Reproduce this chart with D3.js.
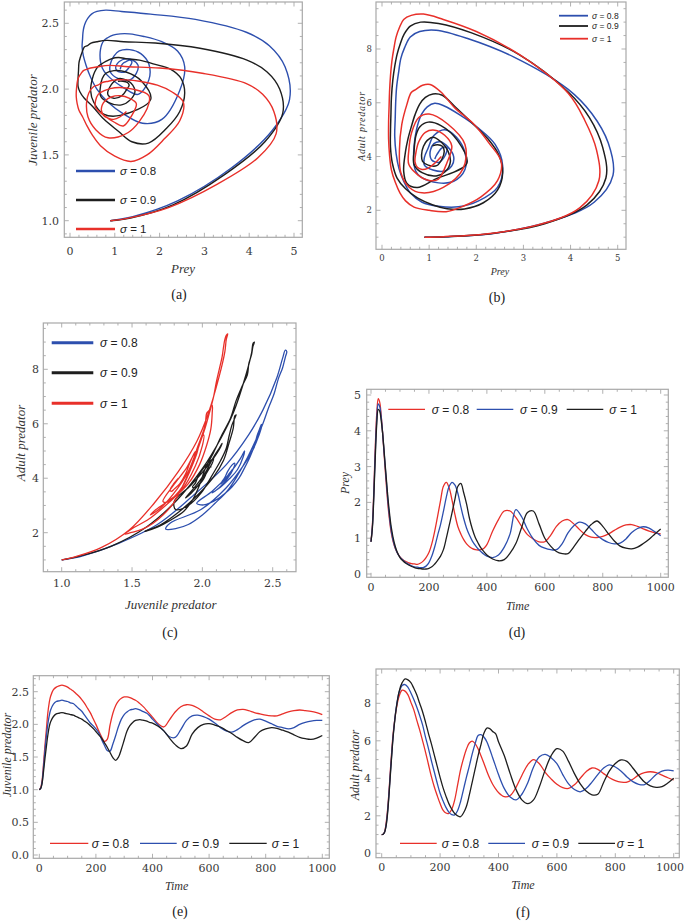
<!DOCTYPE html>
<html><head><meta charset="utf-8">
<script src="https://cdn.jsdelivr.net/npm/d3@7"></script>
<style>body{margin:0;background:#fff}svg{display:block}</style>
</head><body>
<svg id="c" width="685" height="922"></svg>
<script>
// ---------- DATA ----------
const T = [0,5,10,15,20,25,30,35,40,
  50,60,70,80,90,100,110,120,130,140,150,160,170,180,190,200,210,220,230,240,250,260,270,280,290,300,310,320,330,340,350,360,370,380,390,400,
  420,440,460,480,500,520,540,560,580,600,620,640,660,680,700,720,740,760,780,800,820,840,860,880,900,920,940,960,980,1000];

// sigma = 0.8
const preyS1 = [0.9,1.4,2.4,3.6,4.5,4.9,4.8,4.45,3.95,
  2.8,1.8,1.15,0.8,0.6,0.48,0.4,0.35,0.31,0.29,0.28,0.27,0.3,0.36,0.46,0.6,0.85,1.2,1.62,2.05,2.45,2.56,2.4,2.05,1.65,1.32,1.12,0.96,0.84,0.76,0.71,0.68,0.67,0.68,0.72,0.82,
  1.2,1.52,1.76,1.76,1.58,1.33,1.1,0.98,0.9,0.9,1.08,1.33,1.48,1.52,1.4,1.24,1.1,1.03,1.02,1.05,1.12,1.22,1.31,1.37,1.38,1.33,1.26,1.2,1.15,1.12];
const juvS1 = [1.0,1.03,1.15,1.4,1.68,1.92,2.17,2.33,2.43,
  2.53,2.57,2.59,2.6,2.59,2.57,2.54,2.51,2.47,2.43,2.38,2.32,2.25,2.18,2.09,2.0,1.9,1.81,1.74,1.77,1.99,2.17,2.29,2.36,2.4,2.42,2.42,2.41,2.39,2.37,2.34,2.3,2.26,2.21,2.16,2.11,
  2.01,1.96,2.07,2.19,2.27,2.3,2.29,2.25,2.19,2.13,2.08,2.07,2.12,2.18,2.22,2.23,2.21,2.18,2.16,2.14,2.13,2.13,2.16,2.19,2.21,2.22,2.21,2.2,2.18,2.15];
const adultS1 = [1.0,1.02,1.15,1.6,2.3,3.3,4.5,5.6,6.5,
  7.7,8.4,8.7,8.65,8.45,8.05,7.65,7.1,6.58,6.0,5.4,4.75,4.1,3.55,3.08,2.65,2.3,2.15,2.13,2.35,2.85,3.65,4.45,5.05,5.55,5.88,5.98,5.85,5.58,5.2,4.8,4.38,4.0,3.68,3.44,3.24,
  3.02,3.08,3.52,4.15,4.72,5.0,4.78,4.32,3.97,3.68,3.5,3.46,3.65,4.0,4.35,4.55,4.48,4.25,4.03,3.88,3.8,3.79,3.95,4.17,4.3,4.35,4.3,4.17,4.03,3.91];

// sigma = 0.9
const preyS2 = [0.9,1.35,2.3,3.45,4.35,4.75,4.68,4.4,3.95,
  2.9,1.9,1.2,0.82,0.6,0.47,0.39,0.32,0.27,0.23,0.2,0.19,0.18,0.18,0.22,0.32,0.5,0.76,1.08,1.38,1.75,2.15,2.45,2.56,2.48,2.25,1.88,1.55,1.28,1.08,0.92,0.8,0.7,0.62,0.55,0.5,
  0.46,0.53,0.75,1.12,1.8,1.6,1.25,0.98,0.8,0.72,0.68,0.68,0.85,1.15,1.35,1.45,1.4,1.25,1.08,0.96,0.88,0.84,0.86,0.98,1.16,1.27,1.32,1.28,1.18,1.07];
const juvS2 = [1.0,1.02,1.12,1.35,1.6,1.82,2.0,2.13,2.22,
  2.31,2.35,2.36,2.37,2.36,2.35,2.33,2.32,2.28,2.24,2.2,2.14,2.08,2.02,1.98,1.93,1.87,1.77,1.68,1.6,1.59,1.7,1.83,1.97,2.08,2.15,2.19,2.22,2.23,2.24,2.23,2.21,2.19,2.17,2.13,2.08,
  1.99,1.9,1.81,1.8,1.92,2.06,2.13,2.14,2.12,2.08,2.02,1.95,1.9,1.88,1.92,1.98,2.03,2.07,2.08,2.05,2.01,1.97,1.95,1.93,1.95,2.0,2.03,2.05,2.06,2.06];
const adultS2 = [1.0,1.02,1.13,1.5,2.2,3.2,4.35,5.45,6.4,
  7.8,8.6,8.95,9.0,8.85,8.55,8.2,7.8,7.35,6.85,6.2,5.6,4.95,4.35,3.75,3.2,2.8,2.45,2.2,2.06,2.05,2.28,2.75,3.4,4.05,4.65,5.3,5.85,6.28,6.33,6.2,5.95,5.55,5.1,4.65,4.2,
  3.45,3.0,2.85,3.15,3.75,4.6,5.15,5.28,5.1,4.78,4.2,3.7,3.4,3.28,3.45,3.8,4.2,4.55,4.72,4.6,4.38,4.07,3.82,3.68,3.66,3.9,4.2,4.38,4.44,4.4];

// sigma = 1
const preyS3 = [0.9,1.3,2.2,3.3,4.2,4.6,4.55,4.3,3.95,
  2.95,2.0,1.3,0.88,0.62,0.46,0.37,0.3,0.25,0.21,0.18,0.16,0.15,0.14,0.14,0.16,0.2,0.28,0.38,0.5,0.68,1.0,1.36,1.72,2.1,2.45,2.53,2.27,1.95,1.55,1.25,1.02,0.86,0.72,0.62,0.53,
  0.42,0.37,0.4,0.58,0.85,1.3,1.72,1.76,1.4,1.0,0.78,0.63,0.57,0.57,0.76,0.98,1.19,1.38,1.48,1.33,1.12,0.92,0.78,0.72,0.7,0.75,0.85,0.97,1.12,1.26];
const juvS3 = [1.0,1.02,1.1,1.28,1.48,1.66,1.83,1.96,2.04,
  2.12,2.16,2.17,2.18,2.17,2.16,2.15,2.14,2.12,2.1,2.08,2.05,2.02,1.98,1.94,1.89,1.84,1.79,1.72,1.65,1.57,1.49,1.45,1.5,1.62,1.76,1.9,1.98,2.03,2.06,2.07,2.07,2.06,2.05,2.03,2.02,
  1.97,1.9,1.79,1.69,1.63,1.67,1.85,1.95,2.0,2.01,1.99,1.96,1.91,1.86,1.8,1.75,1.72,1.8,1.89,1.93,1.95,1.94,1.91,1.88,1.84,1.8,1.78,1.77,1.79,1.83];
const adultS3 = [1.0,1.02,1.12,1.45,2.1,3.1,4.25,5.35,6.35,
  7.75,8.65,9.1,9.3,9.25,9.1,8.8,8.45,8.0,7.55,7.0,6.4,5.85,5.25,4.65,4.05,3.5,3.05,2.65,2.35,2.12,2.0,1.95,2.15,2.5,3.1,3.8,4.5,5.2,5.8,6.4,6.68,6.65,6.5,6.38,5.95,
  5.2,4.25,3.4,2.85,2.65,2.85,3.55,4.45,5.2,5.58,5.45,4.9,4.25,3.7,3.32,3.12,3.15,3.78,4.4,4.79,4.98,4.9,4.55,4.15,3.8,3.6,3.52,3.56,3.75,4.0];

const sigmaValues = ["0.8", "0.9", "1"];
const xTicksPrey = [0,1,2,3,4,5];
const yTicksJuvA = [1.0,1.5,2.0,2.5];
const yTicksAdult = [2,4,6,8];
const xTicksJuv = [1.0,1.5,2.0,2.5];
const xTicksTime = [0,200,400,600,800,1000];
const yTicksPreyD = [0,1,2,3,4,5];
const yTicksJuvE = [0.0,0.5,1.0,1.5,2.0,2.5];
const yTicksAdultF = [0,2,4,6,8];

// ---------- DRAWING ----------
const RED = "#e8302a", BLUE = "#2d4fae", BLACK = "#1e1e1e";
const svg = d3.select("#c");
const defs = svg.append("defs");
const TICKFONT = "'DejaVu Serif', serif";
const LABFONT = "'Liberation Serif', 'Times New Roman', serif";
const LEGFONT = "'Liberation Sans', Arial, sans-serif";
const PAGE_W = 685;

function sigmaText(sel, i, size) {
  sel.attr("font-family", LEGFONT).attr("font-size", size).attr("fill", "#222");
  sel.append("tspan").attr("font-style", "italic").text("σ");
  sel.append("tspan").text(" = " + sigmaValues[i]);
}

function panel(p) {
  const g = svg.append("g");
  const x = d3.scaleLinear().domain(p.xd).range(p.xr);
  const y = d3.scaleLinear().domain(p.yd).range(p.yr);
  const [L, R, Tp, B] = p.frame;
  const cid = "clip" + p.id;
  defs.append("clipPath").attr("id", cid).append("rect")
    .attr("x", L).attr("y", Tp).attr("width", R - L).attr("height", B - Tp);

  // frame
  g.append("rect").attr("x", L).attr("y", Tp).attr("width", R - L).attr("height", B - Tp)
    .attr("fill", "none").attr("stroke", "#a8a8a8").attr("stroke-width", 1.2);

  // ticks
  const tk = g.append("g").attr("stroke", "#a8a8a8").attr("stroke-width", 0.9);
  function rangeTicks(scale, lo, hi, step) {
    const a = scale.invert(lo), b = scale.invert(hi);
    const mn = Math.min(a, b), mx = Math.max(a, b);
    return d3.range(Math.ceil(mn / step - 1e-6), Math.floor(mx / step + 1e-6) + 1).map(k => k * step);
  }
  const xMinor = rangeTicks(x, L, R, p.xminor);
  const yMinor = rangeTicks(y, B, Tp, p.yminor);
  xMinor.forEach(v => {
    const major = p.xt.some(t => Math.abs(t - v) < 1e-6);
    const len = major ? 4.5 : 2.5;
    tk.append("line").attr("x1", x(v)).attr("x2", x(v)).attr("y1", B).attr("y2", B - len);
    tk.append("line").attr("x1", x(v)).attr("x2", x(v)).attr("y1", Tp).attr("y2", Tp + len);
  });
  yMinor.forEach(v => {
    const major = p.yt.some(t => Math.abs(t - v) < 1e-6);
    const len = major ? 4.5 : 2.5;
    tk.append("line").attr("y1", y(v)).attr("y2", y(v)).attr("x1", L).attr("x2", L + len);
    tk.append("line").attr("y1", y(v)).attr("y2", y(v)).attr("x1", R).attr("x2", R - len);
  });
  // tick labels
  p.xt.forEach(v => {
    const t = g.append("text").attr("x", x(v)).attr("y", p.xly).attr("text-anchor", "middle")
      .attr("font-family", TICKFONT).attr("font-size", p.tfs).attr("fill", "#3a3a3a")
      .text(p.xfmt(v));
    const bb = t.node().getBBox();
    if (bb.x + bb.width > PAGE_W - 1) t.attr("text-anchor", "end").attr("x", PAGE_W - 1);
  });
  p.yt.forEach(v => {
    g.append("text").attr("x", p.ylx).attr("y", y(v)).attr("dy", "0.36em").attr("text-anchor", "end")
      .attr("font-family", TICKFONT).attr("font-size", p.tfs).attr("fill", "#3a3a3a")
      .text(p.yfmt(v));
  });

  // curves
  const line = d3.line().x(d => x(d[0])).y(d => y(d[1])).curve(d3.curveCatmullRom.alpha(0.5));
  const lg = g.append("g").attr("clip-path", `url(#${cid})`);
  p.series.forEach(s => {
    const pts = T.map((t, i) => [s.x[i], s.y[i]]);
    lg.append("path").attr("d", line(pts)).attr("fill", "none")
      .attr("stroke", s.color).attr("stroke-width", p.lw).attr("stroke-linejoin", "round");
  });

  // axis titles
  g.append("text").attr("x", p.xtitle[0]).attr("y", p.xtitle[1]).attr("text-anchor", "middle")
    .attr("font-family", LABFONT).attr("font-style", "italic").attr("font-size", p.lfs)
    .attr("fill", "#333").text(p.xlabel);
  g.append("text").attr("transform", `translate(${p.ytitle[0]},${p.ytitle[1]}) rotate(-90)`)
    .attr("text-anchor", "middle").attr("dy", "0.35em")
    .attr("font-family", LABFONT).attr("font-style", "italic").attr("font-size", p.lfs)
    .attr("letter-spacing", p.lls || 0)
    .attr("fill", "#333").text(p.ylabel);

  // legend
  p.legend.items.forEach((it, i) => {
    g.append("line").attr("x1", it.x1).attr("x2", it.x2).attr("y1", it.y).attr("y2", it.y)
      .attr("stroke", p.series[i].color).attr("stroke-width", p.legend.lw);
    const t = g.append("text").attr("x", it.tx).attr("y", it.y).attr("dy", "0.35em");
    sigmaText(t, i, p.legend.fs);
  });

  // caption
  g.append("text").attr("x", p.cap[0]).attr("y", p.cap[1]).attr("text-anchor", "middle")
    .attr("font-family", LABFONT).attr("font-size", 14).attr("fill", "#222").text(p.capText);
}

const f1 = d3.format(".1f"), f0 = d3.format("d");

// (a) Prey vs Juvenile
panel({
  id: "a", frame: [64.3, 302.3, 2, 237.3],
  xd: [0, 5], xr: [70, 294], yd: [1.0, 2.5], yr: [220.7, 23.3],
  xt: xTicksPrey, yt: yTicksJuvA, xminor: 0.2, yminor: 0.1,
  xfmt: f0, yfmt: f1, xly: 255, ylx: 59, tfs: 11,
  series: [{x: preyS1, y: juvS1, color: BLUE}, {x: preyS2, y: juvS2, color: BLACK}, {x: preyS3, y: juvS3, color: RED}],
  lw: 1.4, xlabel: "Prey", ylabel: "Juvenile predator", xtitle: [183, 273], ytitle: [32, 120], lfs: 13,
  legend: {lw: 2.6, fs: 11.5, items: [{x1: 76, x2: 115, y: 171, tx: 120}, {x1: 76, x2: 115, y: 200, tx: 120}, {x1: 76, x2: 115, y: 229, tx: 120}]},
  cap: [179, 299], capText: "(a)"
});

// (b) Prey vs Adult
panel({
  id: "b", frame: [376, 626, 2, 249.3],
  xd: [0, 5], xr: [382, 617.7], yd: [2, 8], yr: [210.3, 49],
  xt: xTicksPrey, yt: yTicksAdult, xminor: 0.2, yminor: 0.5,
  xfmt: f0, yfmt: f0, xly: 261, ylx: 372, tfs: 8.5,
  series: [{x: preyS1, y: adultS1, color: BLUE}, {x: preyS2, y: adultS2, color: BLACK}, {x: preyS3, y: adultS3, color: RED}],
  lw: 1.5, xlabel: "Prey", ylabel: "Adult predator", xtitle: [500, 275], ytitle: [361, 126], lfs: 10, lls: 0.8,
  legend: {lw: 1.8, fs: 8.5, items: [{x1: 559, x2: 588, y: 15.7, tx: 592}, {x1: 559, x2: 588, y: 26, tx: 592}, {x1: 560, x2: 588, y: 38.7, tx: 592}]},
  cap: [497, 302], capText: "(b)"
});

// (c) Juvenile vs Adult
panel({
  id: "c", frame: [43.3, 296, 323, 571.7],
  xd: [1.0, 2.5], xr: [61.7, 272.7], yd: [2, 8], yr: [532.7, 369.3],
  xt: xTicksJuv, yt: yTicksAdult, xminor: 0.1, yminor: 0.5,
  xfmt: f1, yfmt: f0, xly: 587, ylx: 39, tfs: 11,
  series: [{x: juvS1, y: adultS1, color: BLUE}, {x: juvS2, y: adultS2, color: BLACK}, {x: juvS3, y: adultS3, color: RED}],
  lw: 1.3, xlabel: "Juvenile predator", ylabel: "Adult predator", xtitle: [170.7, 609], ytitle: [20, 443], lfs: 13,
  legend: {lw: 3, fs: 12, items: [{x1: 51.7, x2: 93.3, y: 342.7, tx: 100}, {x1: 51.7, x2: 93.3, y: 372.7, tx: 100}, {x1: 51.7, x2: 93.3, y: 403.3, tx: 100}]},
  cap: [170, 637], capText: "(c)"
});

// (d) Time vs Prey
panel({
  id: "d", frame: [366.7, 668.3, 389.3, 577.3],
  xd: [0, 1000], xr: [371, 660.7], yd: [0, 5], yr: [574, 395],
  xt: xTicksTime, yt: yTicksPreyD, xminor: 50, yminor: 0.2,
  xfmt: f0, yfmt: f0, xly: 591, ylx: 361, tfs: 11,
  series: [{x: T, y: preyS1, color: RED}, {x: T, y: preyS2, color: BLUE}, {x: T, y: preyS3, color: BLACK}],
  lw: 1.3, xlabel: "Time", ylabel: "Prey", xtitle: [517.7, 610], ytitle: [345, 483], lfs: 12,
  legend: {lw: 1.3, fs: 12, items: [{x1: 388.3, x2: 425, y: 409.3, tx: 431.7}, {x1: 476.7, x2: 513.3, y: 409.3, tx: 520}, {x1: 566.7, x2: 603.3, y: 409.3, tx: 609.3}]},
  cap: [517, 637], capText: "(d)"
});

// (e) Time vs Juvenile
panel({
  id: "e", frame: [33.3, 329.3, 675.7, 858.3],
  xd: [0, 1000], xr: [39.3, 322.3], yd: [0, 2.5], yr: [855, 691.7],
  xt: xTicksTime, yt: yTicksJuvE, xminor: 50, yminor: 0.1,
  xfmt: f0, yfmt: f1, xly: 872, ylx: 29, tfs: 11,
  series: [{x: T, y: juvS1, color: RED}, {x: T, y: juvS2, color: BLUE}, {x: T, y: juvS3, color: BLACK}],
  lw: 1.3, xlabel: "Time", ylabel: "Juvenile predator", xtitle: [176.7, 890], ytitle: [7, 755], lfs: 12,
  legend: {lw: 1.3, fs: 12, items: [{x1: 50, x2: 88.3, y: 843.3, tx: 91.7}, {x1: 140, x2: 176.7, y: 843.3, tx: 181.7}, {x1: 229.3, x2: 266.7, y: 843.3, tx: 271.7}]},
  cap: [180, 915.5], capText: "(e)"
});

// (f) Time vs Adult
panel({
  id: "f", frame: [376, 679.3, 669, 857.7],
  xd: [0, 1000], xr: [381.7, 673.7], yd: [0, 8], yr: [853.3, 703.3],
  xt: xTicksTime, yt: yTicksAdultF, xminor: 50, yminor: 0.5,
  xfmt: f0, yfmt: f0, xly: 870.5, ylx: 371, tfs: 11,
  series: [{x: T, y: adultS1, color: RED}, {x: T, y: adultS2, color: BLUE}, {x: T, y: adultS3, color: BLACK}],
  lw: 1.3, xlabel: "Time", ylabel: "Adult predator", xtitle: [523, 889], ytitle: [355, 765], lfs: 12,
  legend: {lw: 1.3, fs: 12, items: [{x1: 400, x2: 436.7, y: 843.3, tx: 441.7}, {x1: 488.3, x2: 525, y: 843.3, tx: 531.7}, {x1: 578.3, x2: 615, y: 843.3, tx: 616.7}]},
  cap: [523, 917], capText: "(f)"
});
</script>
</body></html>
